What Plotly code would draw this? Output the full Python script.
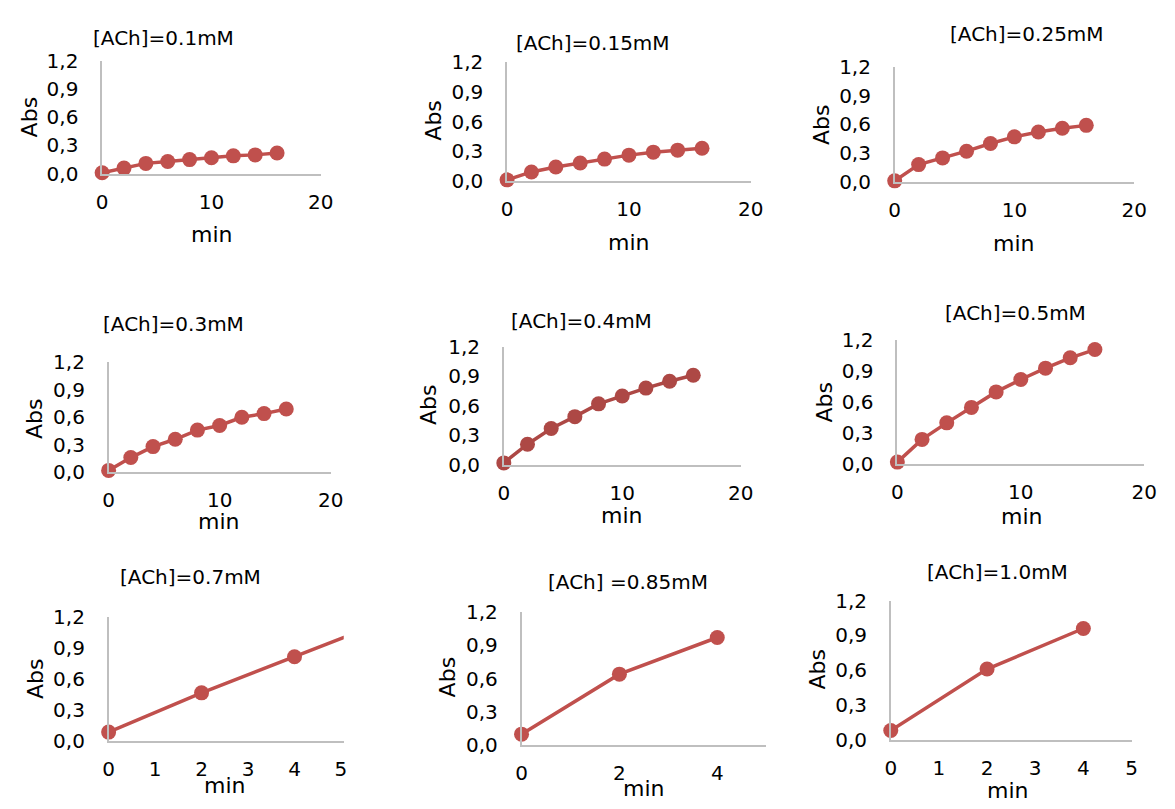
import plotly.graph_objects as go

W, H = 1175, 809

# ---------------- data ----------------
minutes_long = [0, 2, 4, 6, 8, 10, 12, 14, 16]
minutes_07 = [0, 2, 4, 6]
minutes_short = [0, 2, 4]

abs_010 = [0.01, 0.06, 0.11, 0.13, 0.15, 0.17, 0.19, 0.20, 0.22]
abs_015 = [0.01, 0.09, 0.14, 0.18, 0.22, 0.26, 0.29, 0.31, 0.33]
abs_025 = [0.01, 0.18, 0.25, 0.32, 0.40, 0.47, 0.52, 0.56, 0.59]
abs_030 = [0.02, 0.16, 0.28, 0.36, 0.46, 0.51, 0.60, 0.64, 0.69]
abs_040 = [0.02, 0.21, 0.37, 0.49, 0.62, 0.70, 0.78, 0.85, 0.91]
abs_050 = [0.02, 0.24, 0.40, 0.55, 0.70, 0.82, 0.93, 1.03, 1.11]
abs_070 = [0.09, 0.47, 0.82, 1.17]
abs_085 = [0.10, 0.64, 0.97]
abs_100 = [0.08, 0.61, 0.96]

titles = ["[ACh]=0.1mM", "[ACh]=0.15mM", "[ACh]=0.25mM",
          "[ACh]=0.3mM", "[ACh]=0.4mM", "[ACh]=0.5mM",
          "[ACh]=0.7mM", "[ACh] =0.85mM", "[ACh]=1.0mM"]

y_tick_vals = [0, 0.3, 0.6, 0.9, 1.2]
y_tick_text = ["0,0", "0,3", "0,6", "0,9", "1,2"]
x_ticks_long = [0, 10, 20]
x_ticks_five = [0, 1, 2, 3, 4, 5]
x_ticks_even = [0, 2, 4]

series = [
    (minutes_long, abs_010, x_ticks_long),
    (minutes_long, abs_015, x_ticks_long),
    (minutes_long, abs_025, x_ticks_long),
    (minutes_long, abs_030, x_ticks_long),
    (minutes_long, abs_040, x_ticks_long),
    (minutes_long, abs_050, x_ticks_long),
    (minutes_07, abs_070, x_ticks_five),
    (minutes_short, abs_085, x_ticks_even),
    (minutes_short, abs_100, x_ticks_five),
]

# ---------------- layout (pixel geometry) ----------------
# x_left, x_right, y_top, y_bottom, x_max
boxes = [
    (97.7, 320.0, 50.0, 166.7, 20),
    (509.3, 757.0, 51.7, 174.0, 20),
    (903.3, 1146.7, 56.7, 175.0, 20),
    (104.3, 330.0, 361.0, 474.3, 20),
    (506.0, 746.7, 345.0, 466.7, 20),
    (906.0, 1157.0, 338.3, 466.0, 20),
    (104.3, 343.3, 624.0, 751.7, 5.06),
    (524.0, 772.7, 618.3, 755.7, 5.0),
    (899.3, 1144.0, 606.7, 750.0, 5.0),
]
title_pos = [(160, 27), (597, 32), (1038, 23), (170, 322), (585, 318),
             (1026, 310), (188, 582), (632, 587), (1008, 577)]
abs_pos = [(24, 109), (435, 112), (829, 117), (29, 420), (430, 405),
           (831, 403), (30, 688), (449, 686), (825, 678)]
min_pos = [(209, 229), (633, 238), (1025, 239), (217, 525), (626, 519),
           (1033, 520), (223, 797), (648, 800), (1018, 802)]

colors = ["#C0504D"] * 9
colors[4] = "#AD4845"

FONT = "DejaVu Sans"


def px(x):
    return x / W


def py(y):
    return 1 - y / H


fig = go.Figure()
annotations = []
layout = {}

for i, ((xs, ys, xticks), (xl, xr, yt, yb, xmax)) in enumerate(zip(series, boxes)):
    n = "" if i == 0 else str(i + 1)
    xa, ya = "x" + n, "y" + n
    col = colors[i]
    # line (clipped to the plot area)
    fig.add_trace(go.Scatter(x=xs, y=ys, mode="lines", xaxis=xa, yaxis=ya,
                             line=dict(color=col, width=3.5),
                             showlegend=False, hoverinfo="skip"))
    # markers (only those inside the axis range, not clipped)
    mx = [a for a in xs if a <= xmax]
    my = [b for a, b in zip(xs, ys) if a <= xmax]
    fig.add_trace(go.Scatter(x=mx, y=my, mode="markers", xaxis=xa, yaxis=ya,
                             marker=dict(color=col, size=15, line=dict(width=0)),
                             cliponaxis=False, showlegend=False))
    layout["xaxis" + n] = dict(
        domain=[px(xl), px(xr)], anchor=ya, range=[0, xmax],
        tickmode="array", tickvals=xticks, ticktext=[str(t) for t in xticks],
        showgrid=False, zeroline=False, showline=True,
        linecolor="#BFBFBF", linewidth=1.5, ticks="",
        ticklabelstandoff=9,
        tickfont=dict(family=FONT, size=20, color="black"),
        fixedrange=True,
    )
    layout["yaxis" + n] = dict(
        domain=[py(yb), py(yt)], anchor=xa, range=[0, 1.2],
        tickmode="array", tickvals=y_tick_vals, ticktext=y_tick_text,
        showgrid=False, zeroline=False, showline=True,
        linecolor="#BFBFBF", linewidth=1.5, ticks="",
        ticklabelstandoff=18,
        tickfont=dict(family=FONT, size=20, color="black"),
        fixedrange=True,
    )
    tx, ty = title_pos[i]
    annotations.append(dict(text=titles[i], x=px(tx), y=py(ty), xref="paper",
                            yref="paper", showarrow=False, xanchor="center",
                            yanchor="middle",
                            font=dict(family=FONT, size=20, color="black")))
    ax_, ay_ = abs_pos[i]
    annotations.append(dict(text="Abs", x=px(ax_), y=py(ay_), xref="paper",
                            yref="paper", showarrow=False, xanchor="center",
                            yanchor="middle", textangle=-90,
                            font=dict(family=FONT, size=22, color="black")))
    mx_, my_ = min_pos[i]
    annotations.append(dict(text="min", x=px(mx_), y=py(my_), xref="paper",
                            yref="paper", showarrow=False, xanchor="center",
                            yanchor="middle",
                            font=dict(family=FONT, size=22, color="black")))

fig.update_layout(
    width=W, height=H, autosize=False,
    margin=dict(l=0, r=0, t=0, b=0),
    paper_bgcolor="white", plot_bgcolor="white",
    annotations=annotations,
    showlegend=False,
    **layout,
)

fig.write_html("out.html",
               config={"displayModeBar": False},
               post_script="document.body.style.margin='0';document.body.style.overflow='hidden';")
